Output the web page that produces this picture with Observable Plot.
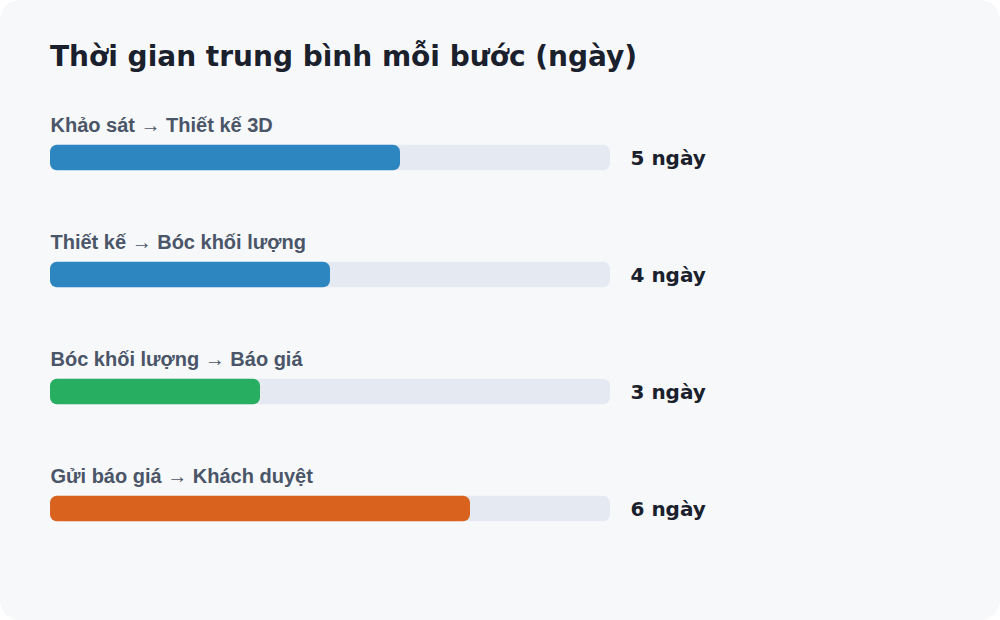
<!DOCTYPE html>
<html>
<head>
<meta charset="utf-8">
<script src="https://cdn.jsdelivr.net/npm/d3@7"></script>
<script src="https://cdn.jsdelivr.net/npm/@observablehq/plot@0.6"></script>
<style>
  html, body { margin: 0; padding: 0; background: #ffffff; }
  #card {
    position: relative; width: 1000px; height: 620px; box-sizing: border-box;
    background: #f7f8fa; border-radius: 20px; overflow: hidden;
    font-family: "Liberation Sans", Arial, sans-serif;
  }
  #title {
    position: absolute; left: 50px; top: 37px; margin: 0;
    font-family: "DejaVu Sans", sans-serif;
    font-size: 28px; font-weight: bold; color: #1a202c; line-height: 40px;
  }
  #chart { position: absolute; left: 0; top: 90px; }
</style>
</head>
<body>
<div id="card">
  <div id="title">Thời gian trung bình mỗi bước (ngày)</div>
  <div id="chart"></div>
</div>
<script>
const steps = ["Khảo sát → Thiết kế 3D", "Thiết kế → Bóc khối lượng", "Bóc khối lượng → Báo giá", "Gửi báo giá → Khách duyệt"];
const days = [5, 4, 3, 6];
const colors = ["#2e86c1", "#2e86c1", "#27ae60", "#d9631e"];
const maxDays = 8;
const unit = "ngày";

const data = steps.map((s, i) => ({step: s, days: days[i], color: colors[i], max: maxDays}));

const bandH = 117.5;
const barH = 26;
const inset = (bandH - barH) / 2;

const chart = Plot.plot({
  width: 1000,
  height: 530,
  marginLeft: 50,
  marginRight: 390,
  marginTop: 8.25,
  marginBottom: 51.75,
  style: {background: "transparent", fontFamily: "'Liberation Sans', Arial, sans-serif"},
  x: {domain: [0, maxDays], axis: null},
  y: {domain: steps, axis: null, padding: 0},
  marks: [
    Plot.barX(data, {y: "step", x1: 0, x2: "max", fill: "#e5eaf2", rx: 7, insetTop: inset, insetBottom: inset}),
    Plot.barX(data, {y: "step", x1: 0, x2: "days", fill: "color", rx: 7, insetTop: inset, insetBottom: inset}),
    Plot.text(data, {y: "step", x: 0, text: "step", textAnchor: "start", dy: -32, fontSize: 20, fontWeight: "bold", fontFamily: "'Liberation Sans Narrow', 'Liberation Sans', Arial, sans-serif", fill: "#4a5568"}),
    Plot.text(data, {y: "step", x: maxDays, text: d => `${d.days} ${unit}`, textAnchor: "start", dx: 20, dy: 1, fontSize: 20, fontWeight: "bold", fontFamily: "'DejaVu Sans', sans-serif", fill: "#1a202c"})
  ]
});
document.getElementById("chart").append(chart);
</script>
</body>
</html>
